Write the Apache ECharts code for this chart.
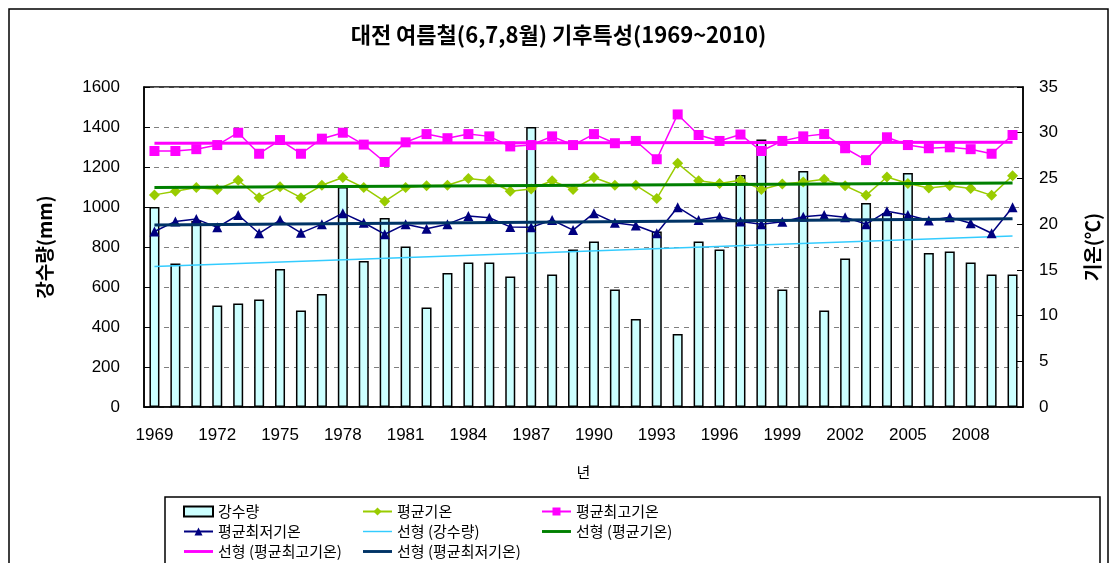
<!DOCTYPE html>
<html>
<head>
<meta charset="utf-8">
<script src="https://cdn.jsdelivr.net/npm/echarts@6/dist/echarts.min.js"></script>
<style>html,body{margin:0;padding:0;background:#fff}#c{width:1117px;height:563px}</style>
</head>
<body>
<div id="c"></div>
<script>
var years = ['1969','1970','1971','1972','1973','1974','1975','1976','1977','1978',
             '1979','1980','1981','1982','1983','1984','1985','1986','1987','1988',
             '1989','1990','1991','1992','1993','1994','1995','1996','1997','1998',
             '1999','2000','2001','2002','2003','2004','2005','2006','2007','2008',
             '2009','2010'];
var precip = [1000,718,930,508,517,538,690,483,565,1100,
              730,945,802,497,670,723,723,653,1400,662,
              787,827,587,440,878,365,827,787,1160,1338,
              587,1180,483,743,1020,970,1170,770,778,723,
              662,662];
var meanT = [23.2,23.6,24.0,23.8,24.8,22.9,24.1,22.9,24.25,25.1,
             24.0,22.5,24.0,24.2,24.25,25.0,24.75,23.6,23.85,24.75,
             23.8,25.1,24.25,24.25,22.8,26.65,24.75,24.45,24.8,23.8,
             24.4,24.6,24.9,24.2,23.15,25.15,24.45,23.95,24.2,23.9,
             23.15,25.3];
var maxT = [28.0,28.0,28.2,28.65,30.0,27.7,29.2,27.7,29.35,30.0,
            28.7,26.8,28.95,29.85,29.4,29.85,29.6,28.5,28.65,29.6,
            28.65,29.85,28.85,29.1,27.1,32.0,29.75,29.1,29.8,28.0,
            29.1,29.6,29.85,28.3,27.0,29.5,28.65,28.3,28.4,28.2,
            27.7,29.75];
var minT = [19.2,20.3,20.55,19.65,21.0,19.0,20.45,19.05,20.0,21.2,
            20.15,18.9,20.0,19.5,20.0,20.9,20.7,19.7,19.65,20.45,
            19.35,21.2,20.15,19.85,19.0,21.85,20.45,20.8,20.3,20.0,
            20.25,20.8,21.0,20.75,20.0,21.4,21.0,20.4,20.75,20.1,
            19.0,21.85];
// linear trend lines: value at first year and at last year
var trendPrecip = [702, 855];
var trendMean = [24.0, 24.5];
var trendMax = [28.85, 28.95];
var trendMin = [19.9, 20.6];

var leftTicks = {min: 0, max: 1600, interval: 200};
var rightTicks = {min: 0, max: 35, interval: 5};

function trend(v) {
  return [[years[0], v[0]], [years[years.length - 1], v[1]]];
}

var FONT = '"Liberation Sans", Arial, "Noto Sans CJK KR", sans-serif';
var KFONT = '"Noto Sans CJK KR", "Liberation Sans", sans-serif';
var THIN = 'path://M0,0 L60,0 L60,3 L0,3 Z';
var THICK = 'path://M0,0 L60,0 L60,6 L0,6 Z';

var chart = echarts.init(document.getElementById('c'), null, {renderer: 'canvas'});
var legendText = {fontFamily: KFONT, fontSize: 15, color: '#000'};
function legendCol(left, data) {
  return {
    orient: 'vertical', left: left, top: 504, itemWidth: 29, itemHeight: 10,
    itemGap: 5, textStyle: legendText, data: data, selectedMode: false,
    padding: 0, symbolKeepAspect: true
  };
}
var option = {
  animation: false,
  backgroundColor: '#fff',
  title: {
    text: '대전 여름철(6,7,8월) 기후특성(1969~2010)',
    left: 'center', top: 19,
    textStyle: {fontFamily: KFONT, fontSize: 22, fontWeight: 'bold', color: '#000'}
  },
  graphic: [
    {type: 'rect', shape: {x: 9, y: 9, width: 1099, height: 600},
     style: {fill: 'none', stroke: '#000', lineWidth: 1.5}, silent: true, z: -1},
    {type: 'rect', shape: {x: 165, y: 497, width: 935, height: 100},
     style: {fill: 'none', stroke: '#000', lineWidth: 1.5}, silent: true, z: -1}
  ],
  legend: [
    legendCol(183, [{name: '강수량', icon: 'rect'}, '평균최저기온', {name: '선형 (평균최고기온)', icon: THICK}]),
    legendCol(362, ['평균기온', {name: '선형 (강수량)', icon: THIN}, {name: '선형 (평균최저기온)', icon: THICK}]),
    legendCol(541, ['평균최고기온', {name: '선형 (평균기온)', icon: THICK}])
  ],
  grid: {left: 144, right: 94, top: 87, bottom: 156, show: true,
         borderColor: '#000', borderWidth: 1.5},
  xAxis: {
    type: 'category', data: years, boundaryGap: true,
    name: '년', nameLocation: 'middle', nameGap: 58,
    nameTextStyle: {fontFamily: KFONT, fontSize: 15, color: '#000'},
    axisLine: {lineStyle: {color: '#000', width: 1.5}},
    axisTick: {inside: true, length: 5, interval: 0, lineStyle: {color: '#000'}},
    axisLabel: {interval: 2, margin: 20, fontFamily: FONT, fontSize: 17, color: '#000'},
    splitLine: {show: false}
  },
  yAxis: [
    {
      type: 'value', min: leftTicks.min, max: leftTicks.max, interval: leftTicks.interval,
      name: '강수량(mm)', nameLocation: 'middle', nameRotate: 90, nameGap: 90,
      nameTextStyle: {fontFamily: KFONT, fontSize: 19, fontWeight: 'bold', color: '#000'},
      axisLine: {show: true, lineStyle: {color: '#000', width: 1.5}},
      axisTick: {show: true, inside: true, length: 6, lineStyle: {color: '#000'}},
      axisLabel: {margin: 24, fontFamily: FONT, fontSize: 17, color: '#000',
                  formatter: function (v) { return String(v); }},
      splitLine: {show: true, lineStyle: {color: '#808080', type: [5, 5], width: 1}}
    },
    {
      type: 'value', min: rightTicks.min, max: rightTicks.max, interval: rightTicks.interval,
      position: 'right',
      name: '기온(℃)', nameLocation: 'middle', nameRotate: 90, nameGap: 60,
      nameTextStyle: {fontFamily: KFONT, fontSize: 19, fontWeight: 'bold', color: '#000'},
      axisLine: {show: true, lineStyle: {color: '#000', width: 1.5}},
      axisTick: {show: true, inside: true, length: 6, lineStyle: {color: '#000'}},
      axisLabel: {margin: 16, fontFamily: FONT, fontSize: 17, color: '#000'},
      splitLine: {show: false}
    }
  ],
  series: [
    {name: '강수량', type: 'bar', yAxisIndex: 0, data: precip, barWidth: 10,
     itemStyle: {color: '#CCFFFF', borderColor: '#000', borderWidth: 1.5}, z: 1},
    {name: '선형 (강수량)', type: 'line', yAxisIndex: 0, data: trend(trendPrecip),
     symbol: 'none', lineStyle: {color: '#33CCFF', width: 1.5}, itemStyle: {color: '#33CCFF'}, z: 2},
    {name: '평균기온', type: 'line', yAxisIndex: 1, data: meanT,
     symbol: 'diamond', symbolSize: 11, lineStyle: {color: '#99CC00', width: 1.5},
     itemStyle: {color: '#99CC00'}, z: 3},
    {name: '평균최고기온', type: 'line', yAxisIndex: 1, data: maxT,
     symbol: 'rect', symbolSize: 10, lineStyle: {color: '#FF00FF', width: 1.5},
     itemStyle: {color: '#FF00FF'}, z: 3},
    {name: '평균최저기온', type: 'line', yAxisIndex: 1, data: minT,
     symbol: 'triangle', symbolSize: 10, lineStyle: {color: '#000080', width: 1.5},
     itemStyle: {color: '#000080'}, z: 3},
    {name: '선형 (평균기온)', type: 'line', yAxisIndex: 1, data: trend(trendMean),
     symbol: 'none', lineStyle: {color: '#008000', width: 3}, itemStyle: {color: '#008000'}, z: 4},
    {name: '선형 (평균최고기온)', type: 'line', yAxisIndex: 1, data: trend(trendMax),
     symbol: 'none', lineStyle: {color: '#FF00FF', width: 3}, itemStyle: {color: '#FF00FF'}, z: 4},
    {name: '선형 (평균최저기온)', type: 'line', yAxisIndex: 1, data: trend(trendMin),
     symbol: 'none', lineStyle: {color: '#003366', width: 3}, itemStyle: {color: '#003366'}, z: 4}
  ]
};
chart.setOption(option);
</script>
</body>
</html>
